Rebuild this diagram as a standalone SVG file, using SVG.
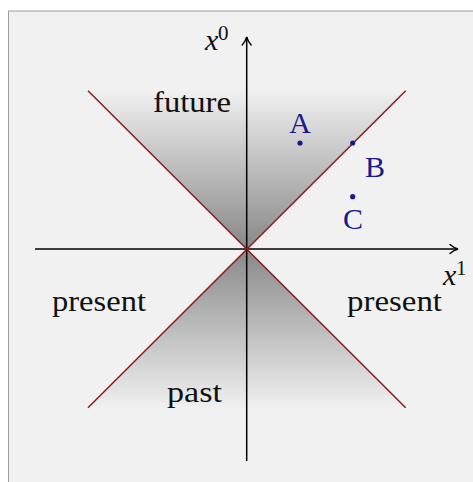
<svg xmlns="http://www.w3.org/2000/svg" width="473" height="482" viewBox="0 0 473 482">
  <defs>
    <linearGradient id="gFuture" x1="0" y1="0" x2="0" y2="1">
      <stop offset="0" stop-color="#f0f0f0"/>
      <stop offset="1" stop-color="#888888"/>
    </linearGradient>
    <linearGradient id="gPast" x1="0" y1="1" x2="0" y2="0">
      <stop offset="0" stop-color="#f0f0f0"/>
      <stop offset="1" stop-color="#888888"/>
    </linearGradient>
    <marker id="arr" viewBox="0 0 12 12" refX="10" refY="6" markerWidth="12" markerHeight="12" markerUnits="userSpaceOnUse" orient="auto">
      <path d="M2,1.5 Q6,5 10,6 Q6,7 2,10.5" fill="none" stroke="#000" stroke-width="1.4" stroke-linecap="round"/>
    </marker>
  </defs>
  <style>
    .lbl { font-family: "Liberation Serif", "DejaVu Serif", serif; font-size: 30px; fill: #111; }
    .pt { font-family: "Liberation Serif", "DejaVu Serif", serif; font-size: 30px; fill: #1a1a8c; }
    .math { font-family: "Liberation Serif", "DejaVu Serif", serif; font-style: italic; font-size: 30px; fill: #111; }
    .sup { font-family: "Liberation Serif", "DejaVu Serif", serif; font-size: 21px; fill: #111; }
    .axis { stroke: #000; stroke-width: 1.5; fill: none; }
    .cone { stroke: #8b1a1a; stroke-width: 1.5; fill: none; }
    .dot { fill: #1a1a8c; }
  </style>
  <rect x="8.5" y="11" width="470" height="480" fill="#f1f1f1" stroke="#a0a0a0" stroke-width="1"/>

  <g id="future-cone">
    <polygon points="88,90.7 405.7,90.7 246.7,249" fill="url(#gFuture)"/>
  </g>
  <g id="past-cone">
    <polygon points="88,407.7 405.7,407.7 246.7,249" fill="url(#gPast)"/>
  </g>

  <g id="connectors">
    <line class="axis" x1="35" y1="249" x2="458" y2="249" marker-end="url(#arr)"/>
    <line class="axis" x1="246.7" y1="461" x2="246.7" y2="37" marker-end="url(#arr)"/>
    <line class="cone" x1="88" y1="90.7" x2="405.7" y2="407.7"/>
    <line class="cone" x1="405.7" y1="90.7" x2="88" y2="407.7"/>
  </g>

  <g id="axis-x0">
    <text class="math" x="205" y="50">x</text>
    <text class="sup" x="218" y="40">0</text>
  </g>
  <g id="axis-x1">
    <text class="math" x="443" y="285">x</text>
    <text class="sup" x="456" y="275">1</text>
  </g>

  <g id="label-future"><text class="lbl" x="153" y="112" textLength="78" lengthAdjust="spacingAndGlyphs">future</text></g>
  <g id="label-past"><text class="lbl" x="167" y="402" textLength="55" lengthAdjust="spacingAndGlyphs">past</text></g>
  <g id="label-present-left"><text class="lbl" x="52" y="311" textLength="94" lengthAdjust="spacingAndGlyphs">present</text></g>
  <g id="label-present-right"><text class="lbl" x="347" y="311" textLength="95" lengthAdjust="spacingAndGlyphs">present</text></g>

  <g id="point-A">
    <circle class="dot" cx="300" cy="143" r="2.6"/>
    <text class="pt" x="300" y="133" text-anchor="middle">A</text>
  </g>
  <g id="point-B">
    <circle class="dot" cx="352.7" cy="143" r="2.6"/>
    <text class="pt" x="375" y="177" text-anchor="middle">B</text>
  </g>
  <g id="point-C">
    <circle class="dot" cx="352.7" cy="196.7" r="2.6"/>
    <text class="pt" x="353" y="229" text-anchor="middle">C</text>
  </g>
</svg>
